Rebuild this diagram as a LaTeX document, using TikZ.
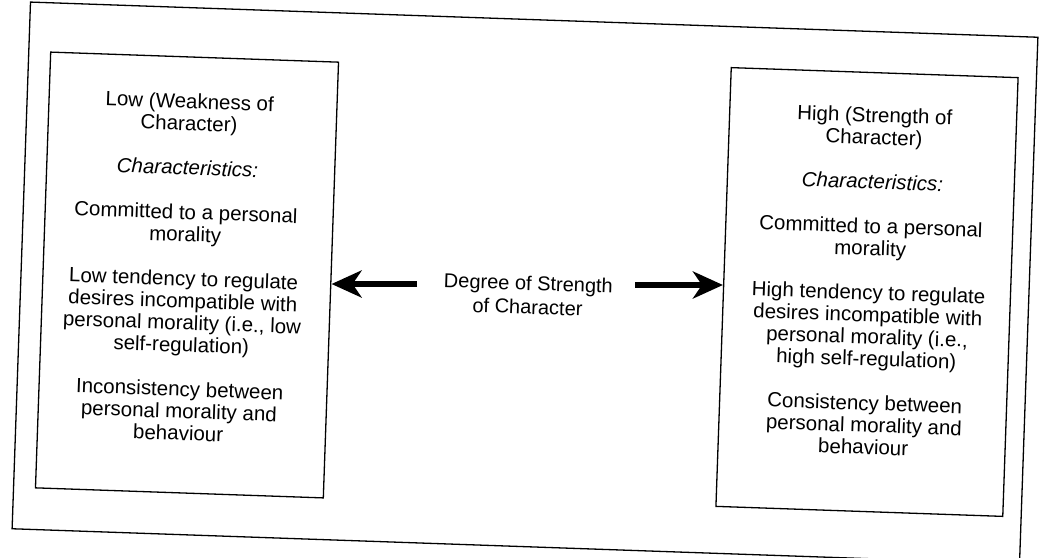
\documentclass[tikz,border=0pt]{standalone}
\usepackage{fontspec}
\setmainfont{Liberation Sans}
\usetikzlibrary{arrows.meta}
\begin{document}
\begin{tikzpicture}[x=1pt,y=-1pt,
  frame/.style={draw=black, line width=1.3pt, rotate=-2, inner sep=0pt},
  boxtext/.style={align=center, inner sep=0pt, rotate=-2,
    font=\fontsize{20.5}{22}\selectfont},
  lbltext/.style={align=center, inner sep=0pt, rotate=-2,
    font=\fontsize{20}{24}\selectfont},
  bigarrow/.style={line width=6pt, -{Stealth[length=30pt,width=27pt,inset=9pt]}}]
\useasboundingbox (0,0) rectangle (1048,557);
\fill[white] (0,0) rectangle (1048,557);
% outer frame
\node[frame, minimum width=1008pt, minimum height=527pt] (outer) at (525,283) {};
% boxes
\node[frame, minimum width=288pt, minimum height=436pt] (left) at (187,275) {};
\node[frame, minimum width=287pt, minimum height=439pt] (right) at (867,292) {};
% box texts
\node[boxtext] (lefttext) at (184,267) {Low (Weakness of\\Character)\\[22.5pt]\textit{Characteristics:}\\[22.5pt]Committed to a personal\\morality\\[22.5pt]Low tendency to regulate\\desires incompatible with\\personal morality (i.e., low\\self-regulation)\\[22.5pt]Inconsistency between\\personal morality and\\behaviour};
\node[boxtext] (righttext) at (869,281) {High (Strength of\\Character)\\[22.5pt]\textit{Characteristics:}\\[22.5pt]Committed to a personal\\morality\\[22.5pt]High tendency to regulate\\desires incompatible with\\personal morality (i.e.,\\high self-regulation)\\[22.5pt]Consistency between\\personal morality and\\behaviour};
% middle label
\node[lbltext] (lbl) at (528,295) {Degree of Strength\\of Character};
% arrows
\coordinate (ltail) at (417,284);
\coordinate (rtail) at (635,285);
\draw[bigarrow] (ltail) -- (ltail -| left.east);
\draw[bigarrow] (rtail) -- (rtail -| right.west);
\end{tikzpicture}
\end{document}
